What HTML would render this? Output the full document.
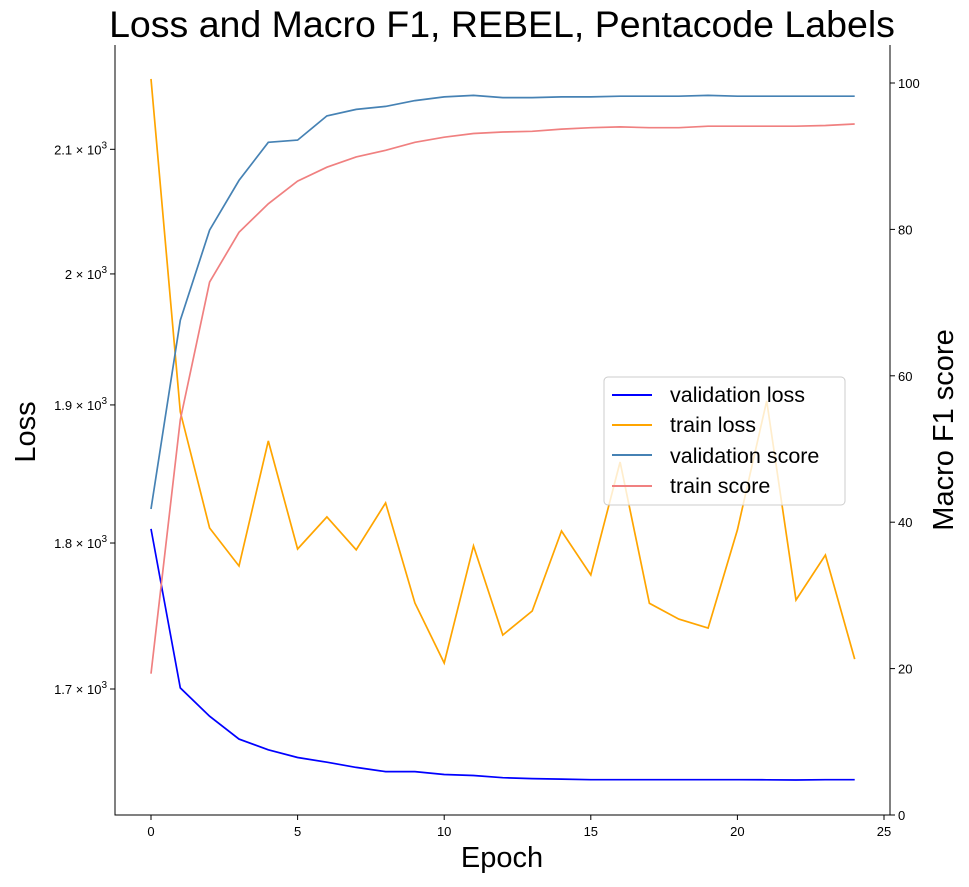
<!DOCTYPE html>
<html><head><meta charset="utf-8"><style>
body{margin:0;background:#fff;}
svg text{font-family:"Liberation Sans","DejaVu Sans",sans-serif;}
</style></head><body>
<svg id="chart" width="969" height="882" xmlns="http://www.w3.org/2000/svg">
<text x="502" y="37" font-size="37.5" text-anchor="middle">Loss and Macro F1, REBEL, Pentacode Labels</text>
<g id="axes"></g><g id="series"></g>
<text x="502" y="867" font-size="29" text-anchor="middle">Epoch</text>
<text transform="translate(35,432) rotate(-90)" font-size="29" text-anchor="middle">Loss</text>
<text transform="translate(953,430) rotate(-90)" font-size="29" text-anchor="middle">Macro F1 score</text>
<g>
<rect x="604" y="377" width="241" height="128" rx="4" fill="#fff" fill-opacity="0.8" stroke="#ccc"/>
<line x1="612" y1="395" x2="652" y2="395" stroke="#0000ff" stroke-width="2"/><text x="670" y="402" font-size="21.5">validation loss</text>
<line x1="612" y1="425" x2="652" y2="425" stroke="#ffa500" stroke-width="2"/><text x="670" y="432" font-size="21.5">train loss</text>
<line x1="612" y1="455" x2="652" y2="455" stroke="#4682b4" stroke-width="2"/><text x="670" y="463" font-size="21.5">validation score</text>
<line x1="612" y1="486" x2="652" y2="486" stroke="#f08080" stroke-width="2"/><text x="670" y="493" font-size="21.5">train score</text>
</g>
</svg>
<script>
const epochs=[0,1,2,3,4,5,6,7,8,9,10,11,12,13,14,15,16,17,18,19,20,21,22,23,24];
const valLoss=[1810,1700.7,1682,1667,1660,1655,1652,1648.6,1645.9,1645.9,1644,1643.4,1642,1641.4,1641.1,1640.7,1640.7,1640.7,1640.7,1640.7,1640.7,1640.6,1640.5,1640.7,1640.7];
const trainLoss=[2158.7,1894.8,1810.6,1783.9,1873.4,1795.8,1818.5,1795.2,1828.5,1758.2,1717.4,1798,1736.3,1752.7,1808.5,1777.6,1858,1758,1747.2,1741,1809.3,1903,1760.3,1791.6,1720];
const valScore=[41.8,67.6,79.9,86.7,91.9,92.2,95.5,96.4,96.8,97.6,98.1,98.3,98.0,98.0,98.1,98.1,98.2,98.2,98.2,98.3,98.2,98.2,98.2,98.2,98.2];
const trainScore=[19.3,54.0,72.8,79.6,83.5,86.6,88.5,89.9,90.8,91.9,92.6,93.1,93.3,93.4,93.7,93.9,94.0,93.9,93.9,94.1,94.1,94.1,94.1,94.2,94.4];
const xTicks=[0,5,10,15,20,25];
const lossTicks=[1700,1800,1900,2000,2100];
const lossTickLabels=["1.7","1.8","1.9","2","2.1"];
const scoreTicks=[0,20,40,60,80,100];
const NS="http://www.w3.org/2000/svg";
const L=115,R=890,T=45,B=815;
const xs=v=>151+v*(884-151)/25;
const yl=v=>689-2554*Math.log(v/1700);
const yr=v=>815-v*7.32;
function mk(tag,attrs,parent){const e=document.createElementNS(NS,tag);for(const k in attrs)e.setAttribute(k,attrs[k]);parent.appendChild(e);return e;}
const ax=document.getElementById('axes'),se=document.getElementById('series');
let sp=mk('path',{d:`M${L},${T}V${B}H${R}V${T}`,fill:'none',stroke:'#000','stroke-width':1},ax);


xTicks.forEach(t=>{const x=xs(t);mk('line',{x1:x,x2:x,y1:B,y2:B+5,stroke:'#000'},ax);
const tx=mk('text',{x:x,y:B+21,'font-size':13,'text-anchor':'middle'},ax);tx.textContent=t;

});
lossTicks.forEach((t,i)=>{const y=yl(t);mk('line',{x1:L-5,x2:L,y1:y,y2:y,stroke:'#000'},ax);
const tx=mk('text',{x:L-8,y:y+5,'font-size':13,'text-anchor':'end'},ax);
tx.innerHTML=lossTickLabels[i]+' \u00d7 10<tspan dy="-6" font-size="10">3</tspan>';

});
scoreTicks.forEach(t=>{const y=yr(t);mk('line',{x1:R,x2:R+5,y1:y,y2:y,stroke:'#000'},ax);
const tx=mk('text',{x:R+8,y:y+5,'font-size':13},ax);tx.textContent=t;

});
function line(data,yf,color,name){const d=data.map((v,i)=>(i?'L':'M')+xs(epochs[i]).toFixed(1)+','+yf(v).toFixed(1)).join('');
const p=mk('path',{d:d,fill:'none',stroke:color,'stroke-width':1.7},se);

}
line(valLoss,yl,'#0000ff','validation-loss-line');
line(trainLoss,yl,'#ffa500','train-loss-line');
line(valScore,yr,'#4682b4','validation-score-line');
line(trainScore,yr,'#f08080','train-score-line');
</script>
</body></html>
